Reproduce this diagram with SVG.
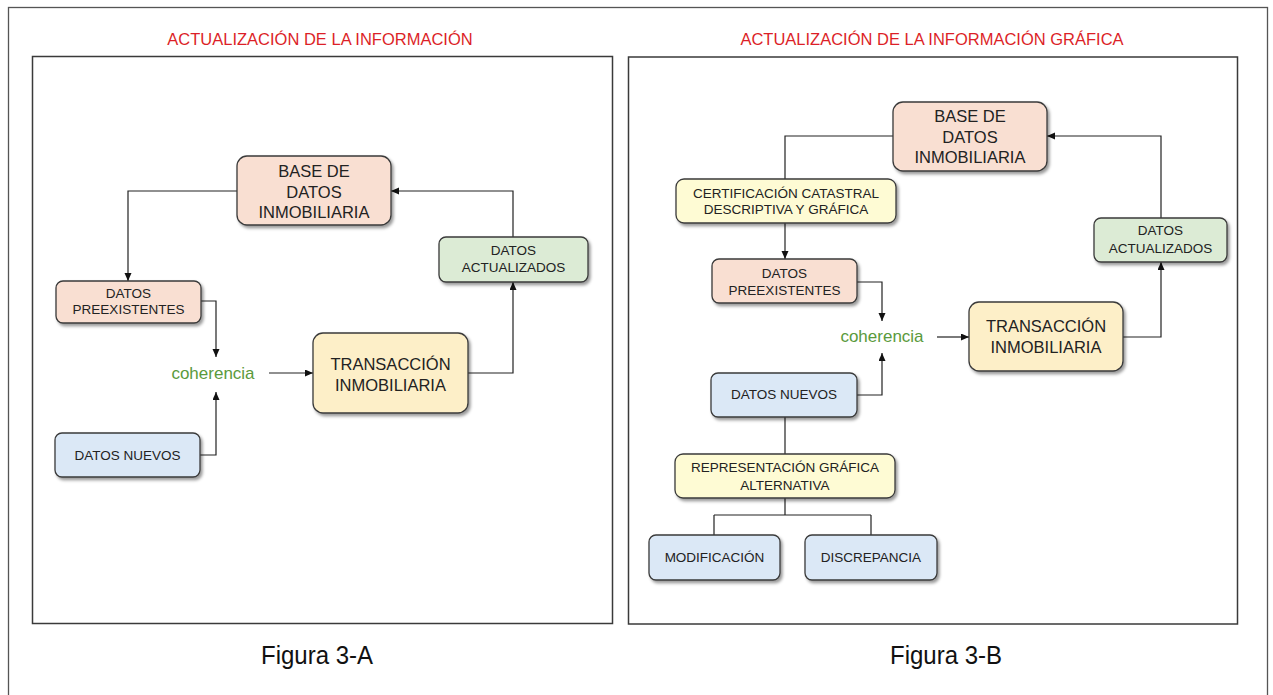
<svg xmlns="http://www.w3.org/2000/svg" width="1273" height="695" viewBox="0 0 1273 695">
<defs>
<filter id="sh" x="-10%" y="-10%" width="130%" height="140%">
<feDropShadow dx="2" dy="2.5" stdDeviation="1.5" flood-color="#000" flood-opacity="0.4"/>
</filter>
<marker id="ar" markerWidth="9" markerHeight="8" refX="8" refY="3.5" orient="auto" markerUnits="userSpaceOnUse">
<path d="M0,0 L8,3.5 L0,7 z" fill="#111"/>
</marker>
</defs>
<style>
.frame{fill:none;stroke:#3a3a3a;stroke-width:1.5}
.outer{fill:#fff;stroke:#555;stroke-width:1.3}
.title{font-family:"Liberation Sans",Arial,sans-serif;font-size:16.5px;fill:#dc1f28;text-anchor:middle}
.cap{font-family:"Liberation Sans Narrow","Liberation Sans",Arial,sans-serif;font-size:25px;fill:#111;text-anchor:middle}
.box{stroke:#3a3a3a;stroke-width:1.3;filter:url(#sh)}
.peach{fill:#f9dfd2}
.green{fill:#dcebd5}
.blue{fill:#dbe8f6}
.orange{fill:#fdefc8}
.yellow{fill:#fefbd4}
.t{font-family:"Liberation Sans",Arial,sans-serif;fill:#222;text-anchor:middle}
.s{font-size:13.5px}
.b{font-size:16.5px}
.coh{font-family:"Liberation Sans",Arial,sans-serif;font-size:17px;fill:#5a9a3c;text-anchor:middle}
.c{fill:none;stroke:#222;stroke-width:1.2}
.a{marker-end:url(#ar)}
</style>
<rect class="outer" x="8.5" y="7.5" width="1259" height="700"/>
<rect class="frame" x="32.5" y="56.5" width="580" height="567"/>
<rect class="frame" x="628.5" y="57" width="609" height="567"/>
<text class="title" x="320" y="45">ACTUALIZACIÓN DE LA INFORMACIÓN</text>
<text class="title" x="932" y="45">ACTUALIZACIÓN DE LA INFORMACIÓN GRÁFICA</text>
<text class="cap" x="317" y="664" textLength="112" lengthAdjust="spacingAndGlyphs">Figura 3-A</text>
<text class="cap" x="946" y="664" textLength="112" lengthAdjust="spacingAndGlyphs">Figura 3-B</text>

<g id="connectors">
<path class="c a" d="M237,191 H128 V281"/>
<path class="c a" d="M201,301 H216 V357"/>
<path class="c a" d="M200,455 H216 V392"/>
<path class="c a" d="M269,373 H313"/>
<path class="c a" d="M468,373 H513 V282"/>
<path class="c a" d="M513,237 V191 H391"/>

<path class="c" d="M893,136 H785 V179"/>
<path class="c a" d="M785,223 V259"/>
<path class="c a" d="M857,282 H882 V321"/>
<path class="c a" d="M857,395 H882 V353"/>
<path class="c a" d="M937,337 H969"/>
<path class="c a" d="M1123,337 H1161 V262"/>
<path class="c a" d="M1161,218 V136 H1047"/>
<path class="c" d="M785,417 V454"/>
<path class="c" d="M785,498 V515 M714,515 H871 M714,515 V535 M871,515 V535"/>
</g>

<g id="a-base">
<rect class="box peach" x="237" y="156" width="154" height="69" rx="10"/>
<text class="t b" x="314" y="177">BASE DE</text>
<text class="t b" x="314" y="198">DATOS</text>
<text class="t b" x="314" y="218">INMOBILIARIA</text>
</g>
<g id="a-preexistentes">
<rect class="box peach" x="56" y="281" width="145" height="42" rx="7"/>
<text class="t s" x="128.5" y="298">DATOS</text>
<text class="t s" x="128.5" y="314">PREEXISTENTES</text>
</g>
<g id="a-nuevos">
<rect class="box blue" x="55" y="433" width="145" height="44" rx="7"/>
<text class="t s" x="127.5" y="460">DATOS NUEVOS</text>
</g>
<g id="a-coherencia">
<text class="coh" x="213" y="379">coherencia</text>
</g>
<g id="a-transaccion">
<rect class="box orange" x="313" y="333" width="155" height="80" rx="10"/>
<text class="t b" x="390.5" y="370">TRANSACCIÓN</text>
<text class="t b" x="390.5" y="391">INMOBILIARIA</text>
</g>
<g id="a-actualizados">
<rect class="box green" x="439" y="237" width="149" height="45" rx="7"/>
<text class="t s" x="513.5" y="255">DATOS</text>
<text class="t s" x="513.5" y="272">ACTUALIZADOS</text>
</g>

<g id="b-base">
<rect class="box peach" x="893" y="102" width="154" height="69" rx="10"/>
<text class="t b" x="970" y="122">BASE DE</text>
<text class="t b" x="970" y="143">DATOS</text>
<text class="t b" x="970" y="163">INMOBILIARIA</text>
</g>
<g id="b-certificacion">
<rect class="box yellow" x="676" y="179" width="220" height="44" rx="8"/>
<text class="t s" x="786" y="198">CERTIFICACIÓN CATASTRAL</text>
<text class="t s" x="786" y="214">DESCRIPTIVA Y GRÁFICA</text>
</g>
<g id="b-preexistentes">
<rect class="box peach" x="712" y="259" width="145" height="44" rx="7"/>
<text class="t s" x="784.5" y="278">DATOS</text>
<text class="t s" x="784.5" y="295">PREEXISTENTES</text>
</g>
<g id="b-coherencia">
<text class="coh" x="882" y="342">coherencia</text>
</g>
<g id="b-nuevos">
<rect class="box blue" x="711" y="373" width="146" height="44" rx="7"/>
<text class="t s" x="784" y="399">DATOS NUEVOS</text>
</g>
<g id="b-representacion">
<rect class="box yellow" x="675" y="454" width="220" height="44" rx="8"/>
<text class="t s" x="785" y="472">REPRESENTACIÓN GRÁFICA</text>
<text class="t s" x="785" y="490">ALTERNATIVA</text>
</g>
<g id="b-modificacion">
<rect class="box blue" x="649" y="535" width="131" height="45" rx="7"/>
<text class="t s" x="714.5" y="562">MODIFICACIÓN</text>
</g>
<g id="b-discrepancia">
<rect class="box blue" x="805" y="535" width="132" height="45" rx="7"/>
<text class="t s" x="871" y="562">DISCREPANCIA</text>
</g>
<g id="b-transaccion">
<rect class="box orange" x="969" y="302" width="154" height="69" rx="10"/>
<text class="t b" x="1046" y="332">TRANSACCIÓN</text>
<text class="t b" x="1046" y="353">INMOBILIARIA</text>
</g>
<g id="b-actualizados">
<rect class="box green" x="1094" y="218" width="133" height="44" rx="7"/>
<text class="t s" x="1160.5" y="235">DATOS</text>
<text class="t s" x="1160.5" y="253">ACTUALIZADOS</text>
</g>
</svg>
